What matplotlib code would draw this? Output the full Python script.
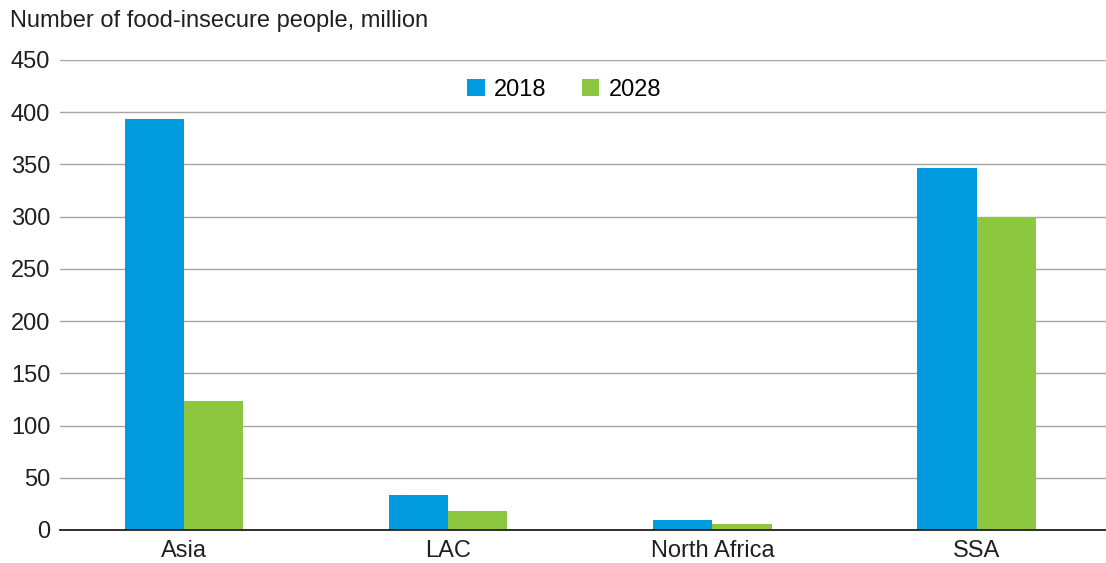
import matplotlib.pyplot as plt
import numpy as np

plt.rcParams['font.family'] = ['Liberation Sans', 'DejaVu Sans']

regions = ["Asia", "LAC", "North Africa", "SSA"]
years = ["2018", "2028"]
people_2018 = [393.5, 33.8, 9.6, 346.6]
people_2028 = [123.5, 18.2, 5.7, 299.7]
yticks = [0, 50, 100, 150, 200, 250, 300, 350, 400, 450]

blue = "#009bde"
green = "#8dc63f"

fig = plt.figure(figsize=(11.06, 5.63), dpi=100)
ax = fig.add_axes([60 / 1106, 33 / 563, 1046 / 1106, 470 / 563])

x = np.arange(len(regions))
w = 0.224
ax.bar(x - w / 2, people_2018, w, color=blue, label=years[0], zorder=3)
ax.bar(x + w / 2, people_2028, w, color=green, label=years[1], zorder=3)

ax.set_xlim(-0.47, 3.49)
ax.set_ylim(0, 450)
ax.set_yticks(yticks)
ax.set_xticks(x)
ax.set_xticklabels(regions)
ax.yaxis.grid(True, color="#a6a6a6", linewidth=1.0, zorder=0)
ax.tick_params(axis="both", length=0, labelsize=17, colors="#231f20")
ax.tick_params(axis="y", pad=7)
ax.tick_params(axis="x", pad=7)
for side in ["top", "right", "left"]:
    ax.spines[side].set_visible(False)
ax.spines["bottom"].set_color("#231f20")
ax.spines["bottom"].set_linewidth(1.3)
ax.spines["bottom"].set_zorder(4)

fig.text(10 / 1106, 1 - 21 / 563, "Number of food-insecure people, million",
         fontsize=17, color="#231f20", va="center", ha="left")

ax.legend(loc="center", bbox_to_anchor=(504 / 1046, (530 - 90) / 470), ncol=2,
          frameon=False, fontsize=17, handlelength=0.75, handleheight=0.75,
          handletextpad=0.38, columnspacing=1.5)

fig.savefig("out.png", dpi=100)
